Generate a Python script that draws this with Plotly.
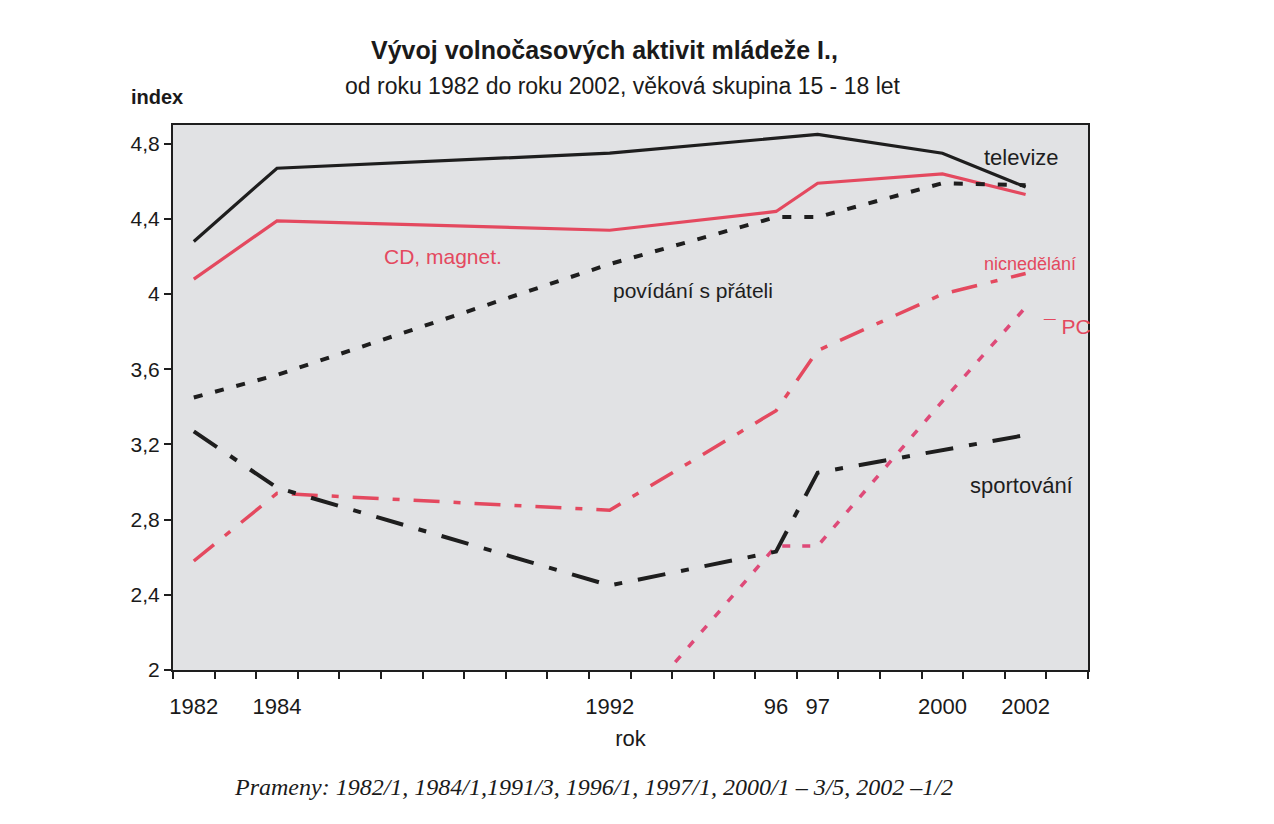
import plotly.graph_objects as go

years = [1982, 1984, 1992, 1996, 1997, 2000, 2002]

televize = [4.28, 4.67, 4.75, 4.83, 4.85, 4.75, 4.57]
cd_magnet = [4.08, 4.39, 4.34, 4.44, 4.59, 4.64, 4.53]
povidani = [3.45, 3.57, 4.16, 4.41, 4.41, 4.59, 4.58]
nicnedelani = [2.58, 2.94, 2.85, 3.38, 3.70, 4.00, 4.11]
sportovani = [3.27, 2.97, 2.45, 2.63, 3.05, 3.17, 3.25]

pc_years = [1992, 1996, 1997, 2000, 2002]
pc_vals = [1.64, 2.66, 2.66, 3.43, 3.93]

tick_years = [1982, 1984, 1992, 1996, 1997, 2000, 2002]
tick_labels = ["1982", "1984", "1992", "96", "97", "2000", "2002"]
y_ticks = [2, 2.4, 2.8, 3.2, 3.6, 4, 4.4, 4.8]
y_labels = ["2", "2,4", "2,8", "3,2", "3,6", "4", "4,4", "4,8"]

RED = "#e4495f"
PINK = "#de4a78"
BLACK = "#1e1e1e"

fig = go.Figure()
fig.add_trace(go.Scatter(x=years, y=televize, mode="lines", name="televize",
                         line=dict(color=BLACK, width=3.2)))
fig.add_trace(go.Scatter(x=years, y=cd_magnet, mode="lines", name="CD, magnet.",
                         line=dict(color=RED, width=3.2)))
fig.add_trace(go.Scatter(x=years, y=povidani, mode="lines", name="povídání s přáteli",
                         line=dict(color=BLACK, width=4, dash="9px,13px")))
fig.add_trace(go.Scatter(x=years, y=nicnedelani, mode="lines", name="nicnedělání",
                         line=dict(color=RED, width=3.5, dash="26px,14px,7px,14px")))
fig.add_trace(go.Scatter(x=pc_years, y=pc_vals, mode="lines", name="PC",
                         line=dict(color=PINK, width=3.5, dash="8px,12px")))
fig.add_trace(go.Scatter(x=years, y=sportovani, mode="lines", name="sportování",
                         line=dict(color=BLACK, width=4, dash="28px,16px,8px,16px")))

font = "Liberation Sans, Arial, sans-serif"

labels = [
    ("televize", 2001.9, 4.725, 22, BLACK),
    ("CD, magnet.", 1988.0, 4.20, 21, RED),
    ("povídání s přáteli", 1994.0, 4.02, 21, BLACK),
    ("nicnedělání", 2002.1, 4.16, 18, RED),
    ("¯ PC", 2003.0, 3.83, 21, RED),
    ("sportování", 2001.9, 2.98, 22, BLACK),
]
annotations = []
for text, x, y, size, color in labels:
    annotations.append(dict(text=text, x=x, y=y, xref="x", yref="y", showarrow=False,
                            font=dict(family=font, size=size, color=color)))

annotations += [
    dict(text="<b>Vývoj volnočasových aktivit mládeže I.,</b>", x=0.472, y=1.138,
         xref="paper", yref="paper", showarrow=False, xanchor="center", yanchor="middle",
         font=dict(family=font, size=25, color="#1a1a1a")),
    dict(text="od roku 1982 do roku 2002, věková skupina 15 - 18 let", x=0.492, y=1.071,
         xref="paper", yref="paper", showarrow=False, xanchor="center", yanchor="middle",
         font=dict(family=font, size=23, color="#1a1a1a")),
    dict(text="<b>index</b>", x=-0.0175, y=1.051, xref="paper", yref="paper",
         showarrow=False, xanchor="center", yanchor="middle",
         font=dict(family=font, size=20, color="#1a1a1a")),
    dict(text="<i>Prameny: 1982/1, 1984/1,1991/3, 1996/1, 1997/1, 2000/1 – 3/5, 2002 –1/2</i>",
         x=0.460, y=-0.215, xref="paper", yref="paper", showarrow=False,
         xanchor="center", yanchor="middle",
         font=dict(family="Liberation Serif, Times New Roman, serif", size=24, color="#1a1a1a")),
]

fig.update_layout(
    width=1258, height=808,
    margin=dict(l=165, r=178, t=117, b=146),
    paper_bgcolor="white",
    plot_bgcolor="#e1e2e4",
    showlegend=False,
    font=dict(family=font, size=21, color="#1a1a1a"),
    annotations=annotations,
)

fig.update_xaxes(
    range=[1981.5, 2003.5],
    tickmode="array", tickvals=tick_years, ticktext=tick_labels,
    ticks="", showgrid=False, zeroline=False,
    showline=True, linecolor=BLACK, linewidth=2, mirror=True,
    tickfont=dict(size=22),
    ticklabelstandoff=16,
    minor=dict(tickmode="linear", tick0=1981.5, dtick=1, ticks="outside",
               ticklen=7, tickwidth=1.5, tickcolor=BLACK, showgrid=False),
    title=dict(text="rok", font=dict(size=22), standoff=12),
)
fig.update_yaxes(
    range=[2, 4.9],
    tickmode="array", tickvals=y_ticks, ticktext=y_labels,
    ticks="outside", ticklen=7, tickwidth=1.5, tickcolor=BLACK,
    showgrid=False, zeroline=False,
    showline=True, linecolor=BLACK, linewidth=2, mirror=True,
    tickfont=dict(size=21),
)

fig.write_html("out.html")
